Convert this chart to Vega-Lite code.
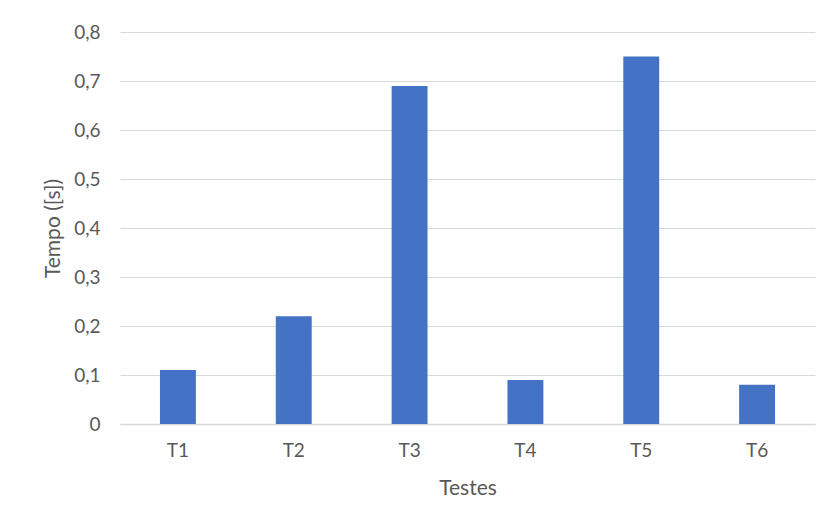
{
  "$schema": "https://vega.github.io/schema/vega-lite/v6.json",
  "width": 695,
  "height": 392,
  "autosize": {"type": "none"},
  "padding": {"left": 120, "top": 32, "right": 13, "bottom": 105},
  "background": "white",
  "config": {
    "view": {"stroke": null},
    "font": "Lato",
    "axis": {"labelFont": "Lato", "titleFont": "Lato", "labelColor": "#595959", "titleColor": "#595959", "labelFontSize": 19, "titleFontSize": 21, "titleFontWeight": "normal"}
  },
  "data": {
    "values": [
      {"teste": "T1", "tempo": 0.11},
      {"teste": "T2", "tempo": 0.22},
      {"teste": "T3", "tempo": 0.69},
      {"teste": "T4", "tempo": 0.09},
      {"teste": "T5", "tempo": 0.75},
      {"teste": "T6", "tempo": 0.08}
    ]
  },
  "mark": {"type": "bar", "color": "#4472C4"},
  "encoding": {
    "x": {
      "field": "teste",
      "type": "nominal",
      "sort": null,
      "scale": {"paddingInner": 0.69, "paddingOuter": 0.345},
      "axis": {"title": "Testes", "labelAngle": 0, "ticks": false, "domainColor": "#d9d9d9", "domainWidth": 1.5, "labelPadding": 17, "titlePadding": 17}
    },
    "y": {
      "field": "tempo",
      "type": "quantitative",
      "scale": {"domain": [0, 0.8], "nice": false},
      "axis": {
        "title": "Tempo ([s])",
        "values": [0, 0.1, 0.2, 0.3, 0.4, 0.5, 0.6, 0.7, 0.8],
        "labelExpr": "datum.value == 0 ? '0' : replace(format(datum.value, '.1f'), '.', ',')",
        "ticks": false,
        "domain": false,
        "gridColor": "#d9d9d9",
        "gridWidth": 1.2,
        "labelPadding": 20,
        "titlePadding": 10
      }
    }
  }
}
